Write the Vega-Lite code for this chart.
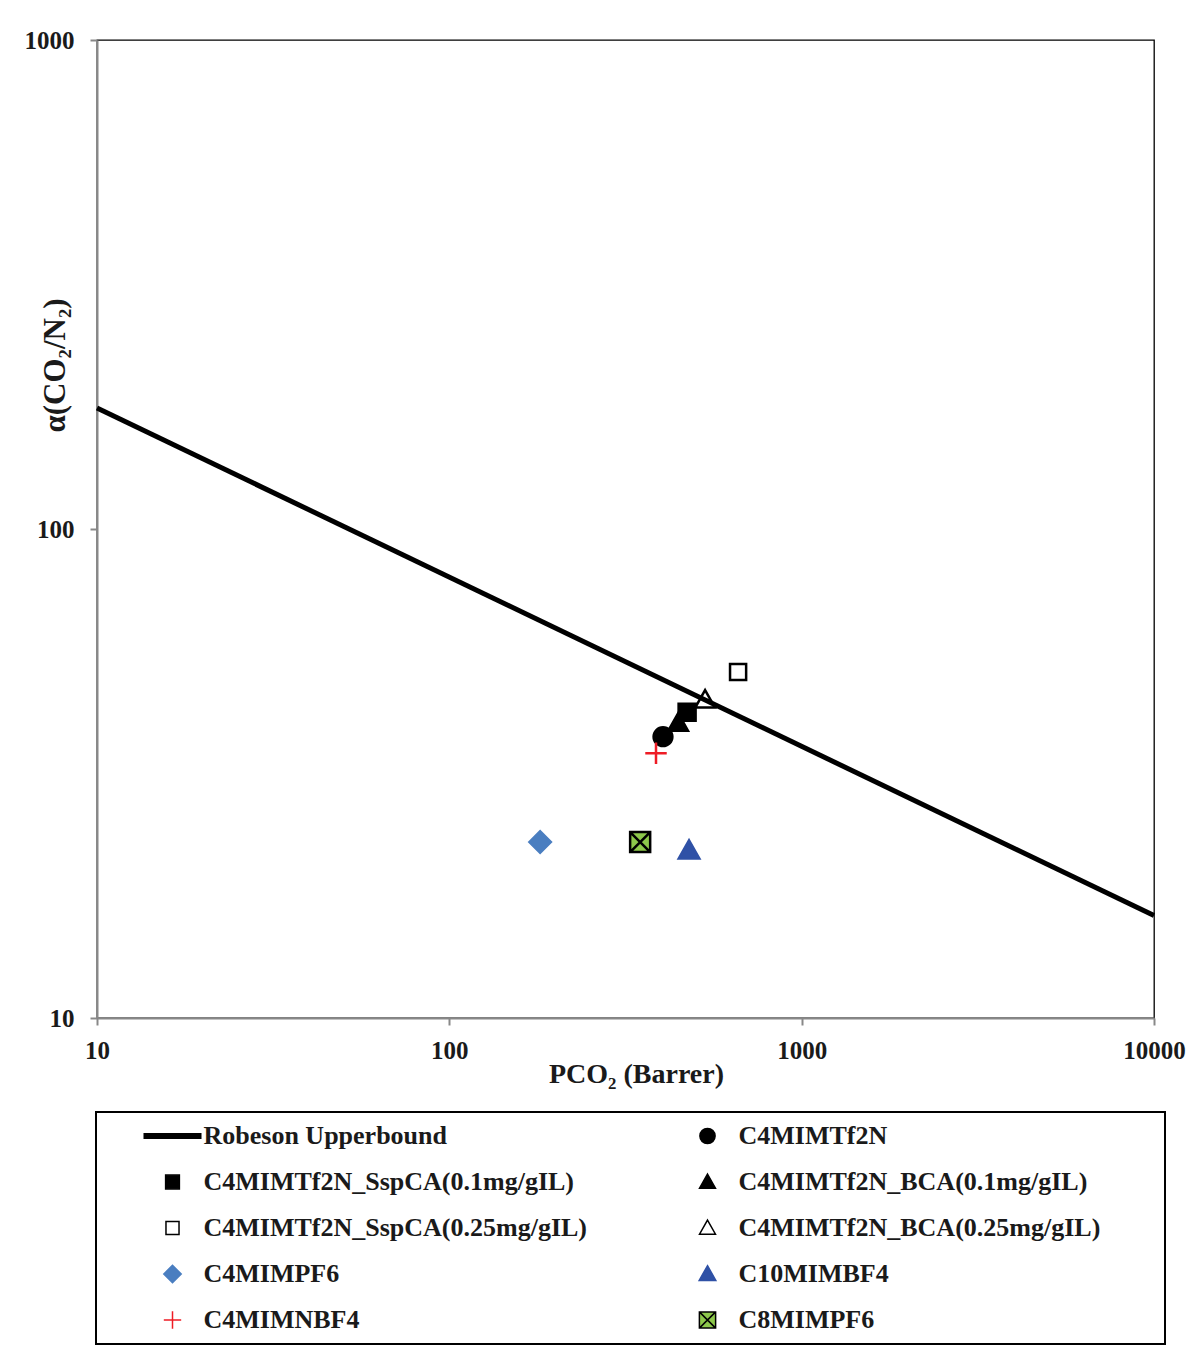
{
  "$schema": "https://vega.github.io/schema/vega-lite/v6.json",
  "width": 1057,
  "height": 978,
  "autosize": {"type": "none"},
  "padding": {"left": 97, "top": 40, "right": 45, "bottom": 334},
  "background": "white",
  "config": {
    "font": "Liberation Serif",
    "view": {"stroke": "black", "strokeWidth": 1.3},
    "legend": {"strokeWidth": 2},
    "axis": {
      "labelFont": "Liberation Serif",
      "labelFontWeight": "bold",
      "labelFontSize": 25,
      "labelColor": "#1a1a1a",
      "labelFlush": false,
      "titleFont": "Liberation Serif",
      "titleFontWeight": "bold",
      "titleColor": "#1a1a1a",
      "grid": false,
      "domainColor": "#888888",
      "domainWidth": 2,
      "tickColor": "#888888",
      "tickWidth": 2,
      "tickSize": 7
    }
  },
  "layer": [
    {
      "data": {
        "values": [
          {"series": "C4MIMTf2N", "P": 404, "alpha": 37.6},
          {"series": "C4MIMTf2N_SspCA(0.1mg/gIL)", "P": 473, "alpha": 42.2},
          {"series": "C4MIMTf2N_BCA(0.1mg/gIL)", "P": 446, "alpha": 40.1},
          {"series": "C4MIMTf2N_SspCA(0.25mg/gIL)", "P": 660, "alpha": 51.0},
          {"series": "C4MIMTf2N_BCA(0.25mg/gIL)", "P": 532, "alpha": 44.7},
          {"series": "C4MIMPF6", "P": 181, "alpha": 22.9},
          {"series": "C10MIMBF4", "P": 479, "alpha": 22.0},
          {"series": "C4MIMNBF4", "P": 386, "alpha": 34.8},
          {"series": "C8MIMPF6", "P": 348, "alpha": 22.9}
        ]
      },
      "mark": {"type": "point", "size": 320, "strokeWidth": 2.5, "opacity": 1},
      "encoding": {
        "x": {
          "field": "P", "type": "quantitative",
          "scale": {"type": "log", "domain": [10, 10000]},
          "axis": {
            "values": [10, 100, 1000, 10000], "format": "d",
            "labelPadding": 13,
            "title": "PCO₂ (Barrer)", "titleFontSize": 28,
            "titleX": 539, "titleY": 64, "titleBaseline": "alphabetic"
          }
        },
        "y": {
          "field": "alpha", "type": "quantitative",
          "scale": {"type": "log", "domain": [10, 1000]},
          "axis": {
            "values": [10, 100, 1000], "format": "d",
            "labelPadding": 16,
            "title": "α(CO₂/N₂)", "titleFontSize": 31,
            "titleX": -42, "titleY": 325, "titleBaseline": "middle", "titleAlign": "center", "titleAngle": -90
          }
        },
        "shape": {
          "field": "series", "type": "nominal",
          "scale": {
            "domain": ["Robeson Upperbound", "C4MIMTf2N_SspCA(0.1mg/gIL)", "C4MIMTf2N_SspCA(0.25mg/gIL)", "C4MIMPF6", "C4MIMNBF4", "C4MIMTf2N", "C4MIMTf2N_BCA(0.1mg/gIL)", "C4MIMTf2N_BCA(0.25mg/gIL)", "C10MIMBF4", "C8MIMPF6"],
            "range": [
              "M-11.8,-4.02M61.2,1.1M-3.9,-0.32H3.9V0.32H-3.9Z",
              "M-11.8,-4.02M61.2,1.1M-0.95,-0.95H0.95V0.95H-0.95Z",
              "M-11.8,-4.02M61.2,1.1M-0.9,-0.9H0.9V0.9H-0.9Z",
              "M-11.8,-4.02M61.2,1.1M-1.2,0L0,-1.2L1.2,0L0,1.2Z",
              "M-11.8,-4.02M61.2,1.1M-1.2,0H1.2M0,-1.2V1.2",
              "M-11.8,-4.02M61.2,1.1M-1.05,0A1.05,1.05 0 1,1 1.05,0A1.05,1.05 0 1,1 -1.05,0Z",
              "M-11.8,-4.02M61.2,1.1M0,-1.1L1.1,0.85L-1.1,0.85Z",
              "M-11.8,-4.02M61.2,1.1M0,-1.1L1.1,0.85L-1.1,0.85Z",
              "M-11.8,-4.02M61.2,1.1M0,-1.15L1.15,0.9L-1.15,0.9Z",
              "M-11.8,-4.02M61.2,1.1M-1.12,-1.12H1.12V1.12H-1.12ZM-1.12,-1.12L1.12,1.12M1.12,-1.12L-1.12,1.12"
            ]
          },
          "legend": {
            "orient": "none",
            "legendX": -1,
            "legendY": 1072,
            "columns": 2,
            "title": null,
            "padding": 11,
            "rowPadding": 0,
            "columnPadding": 0,
            "strokeColor": "black",
            "fillColor": "white",
            "symbolSize": 210,
            "symbolStrokeWidth": 1.5,
            "symbolOffset": 52.5,
            "labelFont": "Liberation Serif",
            "labelFontWeight": "bold",
            "labelFontSize": 26,
            "labelColor": "#1a1a1a",
            "labelOffset": 18,
            "labelLimit": 600
          }
        },
        "fill": {
          "field": "series", "type": "nominal",
          "scale": {
            "domain": ["Robeson Upperbound", "C4MIMTf2N_SspCA(0.1mg/gIL)", "C4MIMTf2N_SspCA(0.25mg/gIL)", "C4MIMPF6", "C4MIMNBF4", "C4MIMTf2N", "C4MIMTf2N_BCA(0.1mg/gIL)", "C4MIMTf2N_BCA(0.25mg/gIL)", "C10MIMBF4", "C8MIMPF6"],
            "range": ["black", "black", "white", "#4A7EC0", "transparent", "black", "black", "white", "#2F51A6", "#8DC84B"]
          }
        },
        "stroke": {
          "field": "series", "type": "nominal",
          "scale": {
            "domain": ["Robeson Upperbound", "C4MIMTf2N_SspCA(0.1mg/gIL)", "C4MIMTf2N_SspCA(0.25mg/gIL)", "C4MIMPF6", "C4MIMNBF4", "C4MIMTf2N", "C4MIMTf2N_BCA(0.1mg/gIL)", "C4MIMTf2N_BCA(0.25mg/gIL)", "C10MIMBF4", "C8MIMPF6"],
            "range": ["black", "black", "black", "#4A7EC0", "#EE1C25", "black", "black", "black", "#2F51A6", "black"]
          }
        }
      }
    },
    {
      "data": {
        "values": [
          {"P": 10, "alpha": 176.8},
          {"P": 10000, "alpha": 16.2}
        ]
      },
      "mark": {"type": "line", "color": "black", "strokeWidth": 5},
      "encoding": {
        "x": {"field": "P", "type": "quantitative"},
        "y": {"field": "alpha", "type": "quantitative"}
      }
    }
  ]
}
